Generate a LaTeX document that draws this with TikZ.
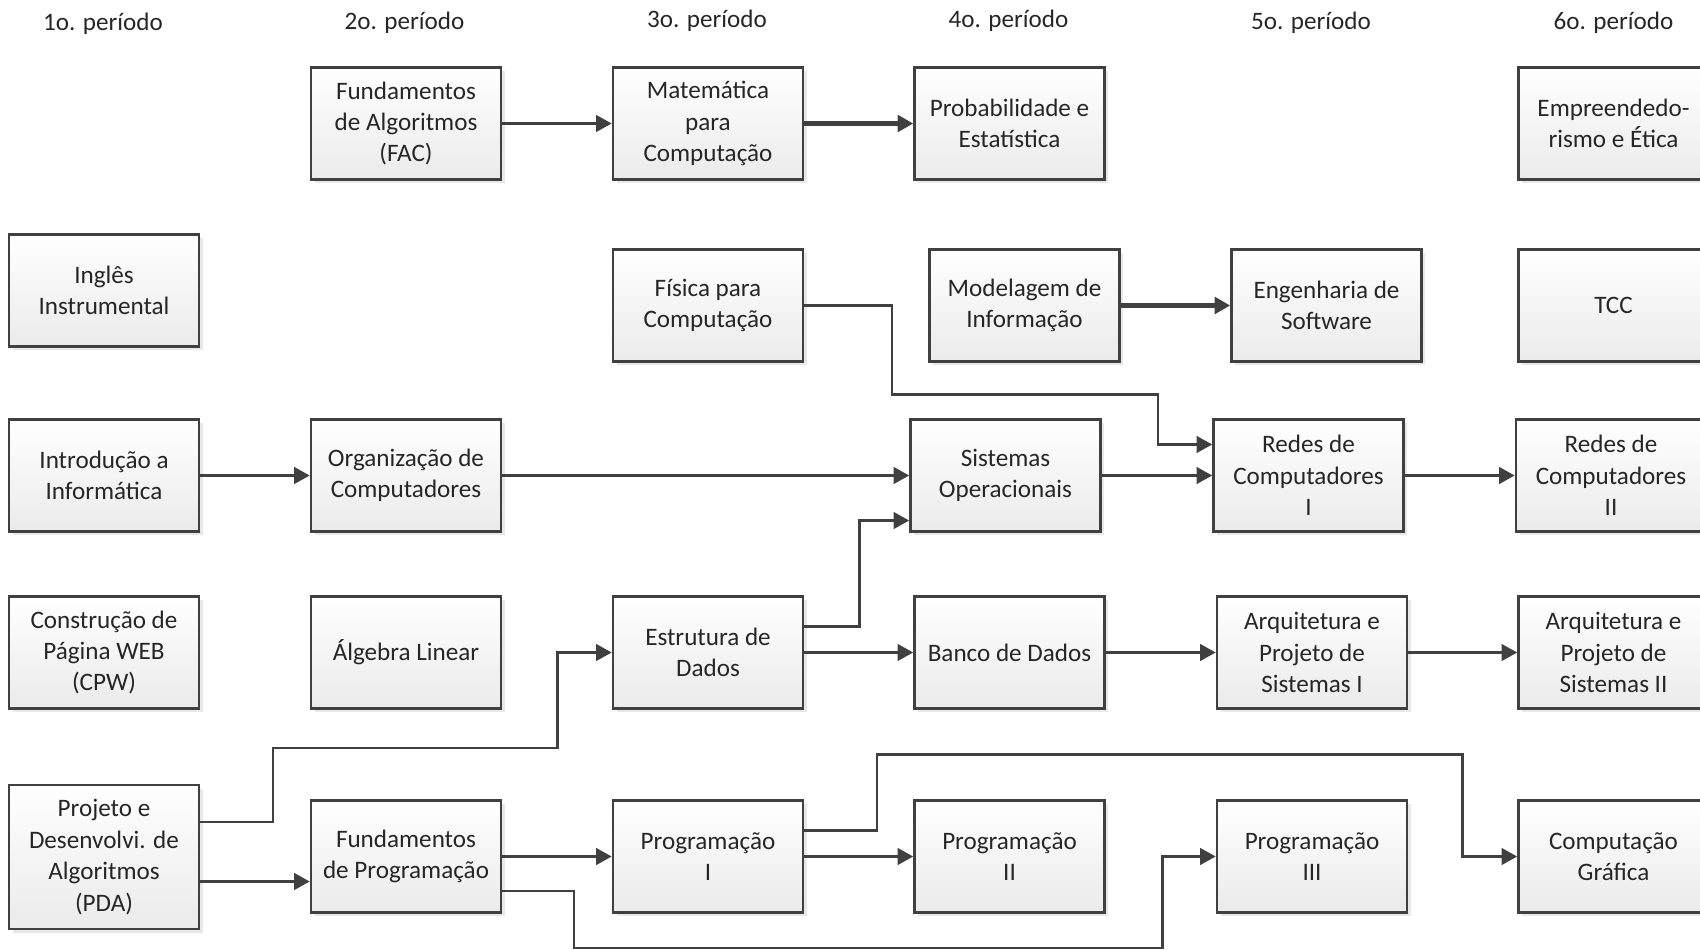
\documentclass[tikz,border=0pt]{standalone}
\usepackage{fontspec}
\setmainfont{Carlito}
\usepackage{xcolor}
\usetikzlibrary{arrows.meta, shadows}
\definecolor{linegray}{HTML}{404040}
\definecolor{textgray}{HTML}{262626}
\tikzset{
  box/.style={draw=linegray, line width=1.5pt, top color=white, bottom color=gray!16, minimum width=3.8cm, minimum height=2.25cm, inner sep=2pt, align=center, text=textgray, font=\fontsize{14.3}{17.9}\selectfont, drop shadow={shadow xshift=0.07cm, shadow yshift=-0.07cm, opacity=0.18}},
  hdr/.style={text=textgray, font=\fontsize{14.3}{17.9}\selectfont},
  arr/.style={-{Triangle[length=0.31cm, width=0.33cm]}, draw=linegray, line width=1.45pt},
  thickarr/.style={arr, line width=2.7pt}
}

\begin{document}
\begin{tikzpicture}
    \useasboundingbox (0,0) rectangle (34,-19);

    % period headers
    \node[hdr] (h1) at (2.06,-0.48) {1o. período};
    \node[hdr] (h2) at (8.09,-0.46) {2o. período};
    \node[hdr] (h3) at (14.14,-0.41) {3o. período};
    \node[hdr] (h4) at (20.17,-0.41) {4o. período};
    \node[hdr] (h5) at (26.22,-0.46) {5o. período};
    \node[hdr] (h6) at (32.27,-0.46) {6o. período};

    % row 1
    \node[box] (fac) at (8.12,-2.47) {Fundamentos\\de Algoritmos\\(FAC)};
    \node[box] (mat) at (14.16,-2.47) {Matemática\\para\\Computação};
    \node[box] (prob) at (20.19,-2.47) {Probabilidade e\\Estatística};
    \node[box] (emp) at (32.27,-2.47) {Empreendedo-\\rismo e Ética};

    % row 2
    \node[box] (ing) at (2.08,-5.81) {Inglês\\Instrumental};
    \node[box] (fis) at (14.16,-6.11) {Física para\\Computação};
    \node[box] (mod) at (20.49,-6.11) {Modelagem de\\Informação};
    \node[box] (eng) at (26.53,-6.11) {Engenharia de\\Software};
    \node[box] (tcc) at (32.27,-6.11) {TCC};

    % row 3
    \node[box] (intro) at (2.08,-9.51) {Introdução a\\Informática};
    \node[box] (org) at (8.12,-9.51) {Organização de\\Computadores};
    \node[box] (so) at (20.11,-9.51) {Sistemas\\Operacionais};
    \node[box] (rc1) at (26.17,-9.51) {Redes de\\Computadores\\I};
    \node[box] (rc2) at (32.22,-9.51) {Redes de\\Computadores\\II};

    % row 4
    \node[box] (cpw) at (2.08,-13.05) {Construção de\\Página WEB\\(CPW)};
    \node[box] (alg) at (8.12,-13.05) {Álgebra Linear};
    \node[box] (est) at (14.16,-13.05) {Estrutura de\\Dados};
    \node[box] (bd) at (20.19,-13.05) {Banco de Dados};
    \node[box] (aps1) at (26.24,-13.05) {Arquitetura e\\Projeto de\\Sistemas I};
    \node[box] (aps2) at (32.27,-13.05) {Arquitetura e\\Projeto de\\Sistemas II};

    % row 5
    \node[box, minimum height=2.88cm] (pda) at (2.08,-17.14) {Projeto e\\Desenvolvi. de\\Algoritmos\\(PDA)};
    \node[box] (fp) at (8.12,-17.13) {Fundamentos\\de Programação};
    \node[box] (p1) at (14.16,-17.13) {Programação\\I};
    \node[box] (p2) at (20.19,-17.13) {Programação\\II};
    \node[box] (p3) at (26.24,-17.13) {Programação\\III};
    \node[box] (cg) at (32.27,-17.13) {Computação\\Gráfica};

    % side ports
    \coordinate (rc1up) at ([yshift=0.62cm]rc1.west);
    \coordinate (solo) at ([yshift=-0.90cm]so.west);
    \coordinate (estup) at ([yshift=0.52cm]est.east);
    \coordinate (pdaup) at ([yshift=0.70cm]pda.east);
    \coordinate (pdalo) at ([yshift=-0.49cm]pda.east);
    \coordinate (fplo) at ([yshift=-0.69cm]fp.east);
    \coordinate (p1up) at ([yshift=0.52cm]p1.east);

    \draw[arr] (fac) -- (mat);
    \draw[thickarr] (mat) -- (prob);
    \draw[thickarr] (mod) -- (eng);
    \draw[arr] (intro) -- (org);
    \draw[arr] (org) -- (so);
    \draw[arr] (so) -- (rc1);
    \draw[arr] (rc1) -- (rc2);
    \draw[arr] (est) -- (bd);
    \draw[arr] (bd) -- (aps1);
    \draw[arr] (aps1) -- (aps2);
    \draw[arr] (fp) -- (p1);
    \draw[arr] (p1) -- (p2);
    \draw[arr] (pdalo) -- (pdalo -| fp.west);
    \draw[arr] (fis.east) -- ++(1.75,0) |- (23.16,-7.89) |- (rc1up);
    \draw[arr] (estup) -- ++(1.1,0) |- (solo);
    \draw[arr] (pdaup) -- ++(1.45,0) |- (11.15,-14.96) |- (est.west);
    \draw[arr] (fplo) -- ++(1.43,0) |- (23.25,-18.96) |- (p3.west);
    \draw[arr] (p1up) -- ++(1.45,0) |- (29.25,-15.09) |- (cg.west);
  \end{tikzpicture}
\end{document}
